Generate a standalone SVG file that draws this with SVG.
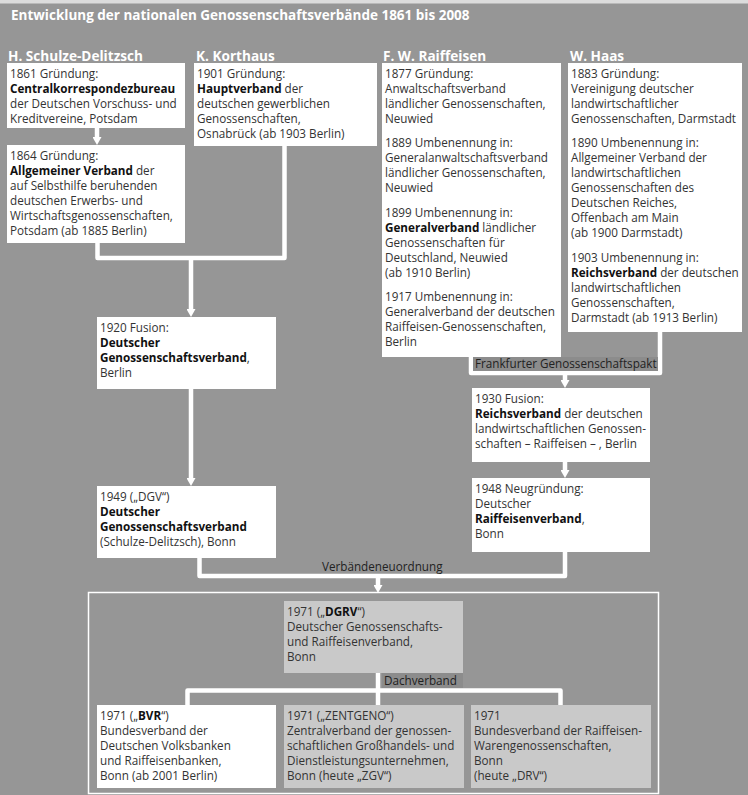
<svg xmlns="http://www.w3.org/2000/svg" width="748" height="795" viewBox="0 0 748 795">
<defs>
<style>
.t{font-family:"Open Sans","Noto Sans","DejaVu Sans",sans-serif;font-size:11.7px;fill:#333}
.b{font-weight:bold;fill:#111}
.h{font-family:"Open Sans","Noto Sans","DejaVu Sans",sans-serif;font-size:13.6px;font-weight:bold;fill:#fff}
.bx{fill:#fff}
.bg{fill:#c9c9c9}
.c{fill:none;stroke:#fff;stroke-width:4.5;stroke-linejoin:round}
.lb{fill:#8c8c8c}
.lt{font-family:"Open Sans","Noto Sans","DejaVu Sans",sans-serif;font-size:11.7px;fill:#222}
</style>
<marker id="ah" viewBox="0 0 8 9" refX="0" refY="4.5" markerWidth="8" markerHeight="9" markerUnits="userSpaceOnUse" orient="auto"><path d="M0,0 L8,4.5 L0,9 z" fill="#fff"/></marker>
</defs>
<rect x="0" y="0" width="748" height="795" fill="#969696"/>
<rect x="0" y="0" width="748" height="3.5" fill="#dcdcdc"/>
<text class="h" x="11" y="20" style="font-size:13.5px">Entwicklung der nationalen Genossenschaftsverbände 1861 bis 2008</text>
<text class="h" x="8" y="61">H. Schulze-Delitzsch</text>
<text class="h" x="196" y="61">K. Korthaus</text>
<text class="h" x="383" y="61">F. W. Raiffeisen</text>
<text class="h" x="570" y="61">W. Haas</text>

<g id="connectors">
<path class="c" d="M97,128 V137" marker-end="url(#ah)"/>
<path class="c" d="M97.5,243 V258 H284.5 V146"/>
<path class="c" d="M191,258 V309" marker-end="url(#ah)"/>
<path class="c" d="M191,389 V478" marker-end="url(#ah)"/>
<path class="c" d="M471,357 V373 H660 V332"/>
<path class="c" d="M565,373 V380" marker-end="url(#ah)"/>
<path class="c" d="M565,462 V470" marker-end="url(#ah)"/>
<path class="c" d="M199.5,558 V576 H565 V552"/>
<path class="c" d="M378,576 V585" marker-end="url(#ah)"/>
<path class="c" d="M378,673 V705"/>
<path class="c" d="M187.5,705 V690.5 H560.5 V705"/>
<rect class="lb" x="473" y="357" width="185" height="14"/>
<text class="lt" x="475" y="368">Frankfurter Genossenschaftspakt</text>
<text class="lt" x="322" y="571">Verbändeneuordnung</text>
<rect class="lb" x="382" y="673" width="81" height="15"/>
<text class="lt" x="384" y="685">Dachverband</text>
</g>

<rect x="88.5" y="592.5" width="570" height="201" fill="none" stroke="#fff" stroke-width="1.5"/>

<g id="n1861">
<rect class="bx" x="7" y="63" width="178" height="65"/>
<text class="t" x="10" y="77.5">1861 Gründung:</text>
<text class="t" x="10" y="92.5"><tspan class="b">Centralkorrespondezbureau</tspan></text>
<text class="t" x="10" y="107.5">der Deutschen Vorschuss- und</text>
<text class="t" x="10" y="122.5">Kreditvereine, Potsdam</text>
</g>

<g id="n1864">
<rect class="bx" x="7" y="145" width="178" height="98"/>
<text class="t" x="10" y="159.5">1864 Gründung:</text>
<text class="t" x="10" y="174.5"><tspan class="b">Allgemeiner Verband</tspan> der</text>
<text class="t" x="10" y="189.5">auf Selbsthilfe beruhenden</text>
<text class="t" x="10" y="204.5">deutschen Erwerbs- und</text>
<text class="t" x="10" y="219.5">Wirtschaftsgenossenschaften,</text>
<text class="t" x="10" y="234.5">Potsdam (ab 1885 Berlin)</text>
</g>

<g id="n1901">
<rect class="bx" x="194" y="63" width="183" height="83"/>
<text class="t" x="197" y="77.5">1901 Gründung:</text>
<text class="t" x="197" y="92.5"><tspan class="b">Hauptverband</tspan> der</text>
<text class="t" x="197" y="107.5">deutschen gewerblichen</text>
<text class="t" x="197" y="122.5">Genossenschaften,</text>
<text class="t" x="197" y="137.5">Osnabrück (ab 1903 Berlin)</text>
</g>

<g id="nRaiffeisen">
<rect class="bx" x="382" y="63" width="179" height="294"/>
<text class="t" x="385" y="77.5">1877 Gründung:</text>
<text class="t" x="385" y="92.5">Anwaltschaftsverband</text>
<text class="t" x="385" y="107.5">ländlicher Genossenschaften,</text>
<text class="t" x="385" y="122.5">Neuwied</text>
<text class="t" x="385" y="147">1889 Umbenennung in:</text>
<text class="t" x="385" y="162">Generalanwaltschaftsverband</text>
<text class="t" x="385" y="177">ländlicher Genossenschaften,</text>
<text class="t" x="385" y="192">Neuwied</text>
<text class="t" x="385" y="216.5">1899 Umbenennung in:</text>
<text class="t" x="385" y="231.5"><tspan class="b">Generalverband</tspan> ländlicher</text>
<text class="t" x="385" y="246.5">Genossenschaften für</text>
<text class="t" x="385" y="261.5">Deutschland, Neuwied</text>
<text class="t" x="385" y="276.5">(ab 1910 Berlin)</text>
<text class="t" x="385" y="301">1917 Umbenennung in:</text>
<text class="t" x="385" y="316">Generalverband der deutschen</text>
<text class="t" x="385" y="331">Raiffeisen-Genossenschaften,</text>
<text class="t" x="385" y="346">Berlin</text>
</g>

<g id="nHaas">
<rect class="bx" x="568" y="63" width="174" height="269"/>
<text class="t" x="571" y="77.5">1883 Gründung:</text>
<text class="t" x="571" y="92.5">Vereinigung deutscher</text>
<text class="t" x="571" y="107.5">landwirtschaftlicher</text>
<text class="t" x="571" y="122.5">Genossenschaften, Darmstadt</text>
<text class="t" x="571" y="147">1890 Umbenennung in:</text>
<text class="t" x="571" y="162">Allgemeiner Verband der</text>
<text class="t" x="571" y="177">landwirtschaftlichen</text>
<text class="t" x="571" y="192">Genossenschaften des</text>
<text class="t" x="571" y="207">Deutschen Reiches,</text>
<text class="t" x="571" y="222">Offenbach am Main</text>
<text class="t" x="571" y="237">(ab 1900 Darmstadt)</text>
<text class="t" x="571" y="261.5">1903 Umbenennung in:</text>
<text class="t" x="571" y="276.5"><tspan class="b">Reichsverband</tspan> der deutschen</text>
<text class="t" x="571" y="291.5">landwirtschaftlichen</text>
<text class="t" x="571" y="306.5">Genossenschaften,</text>
<text class="t" x="571" y="321.5">Darmstadt (ab 1913 Berlin)</text>
</g>

<g id="n1920">
<rect class="bx" x="97" y="317" width="179" height="72"/>
<text class="t" x="100" y="331.5">1920 Fusion:</text>
<text class="t" x="100" y="346.5"><tspan class="b">Deutscher</tspan></text>
<text class="t" x="100" y="361.5"><tspan class="b">Genossenschaftsverband</tspan>,</text>
<text class="t" x="100" y="376.5">Berlin</text>
</g>

<g id="n1949">
<rect class="bx" x="97" y="486" width="179" height="72"/>
<text class="t" x="100" y="500.5">1949 („DGV“)</text>
<text class="t" x="100" y="515.5"><tspan class="b">Deutscher</tspan></text>
<text class="t" x="100" y="530.5"><tspan class="b">Genossenschaftsverband</tspan></text>
<text class="t" x="100" y="545.5">(Schulze-Delitzsch), Bonn</text>
</g>

<g id="n1930">
<rect class="bx" x="472" y="388" width="178" height="74"/>
<text class="t" x="475" y="402.5">1930 Fusion:</text>
<text class="t" x="475" y="417.5"><tspan class="b">Reichsverband</tspan> der deutschen</text>
<text class="t" x="475" y="432.5">landwirtschaftlichen Genossen-</text>
<text class="t" x="475" y="447.5">schaften – Raiffeisen – , Berlin</text>
</g>

<g id="n1948">
<rect class="bx" x="472" y="478" width="178" height="74"/>
<text class="t" x="475" y="492.5">1948 Neugründung:</text>
<text class="t" x="475" y="507.5">Deutscher</text>
<text class="t" x="475" y="522.5"><tspan class="b">Raiffeisenverband</tspan>,</text>
<text class="t" x="475" y="537.5">Bonn</text>
</g>

<g id="nDGRV">
<rect class="bg" x="284" y="601" width="179" height="72"/>
<text class="t" x="287" y="615.5">1971 („<tspan class="b">DGRV</tspan>“)</text>
<text class="t" x="287" y="630.5">Deutscher Genossenschafts-</text>
<text class="t" x="287" y="645.5">und Raiffeisenverband,</text>
<text class="t" x="287" y="660.5">Bonn</text>
</g>

<g id="nBVR">
<rect class="bx" x="97" y="705" width="179" height="83"/>
<text class="t" x="100" y="719.5">1971 („<tspan class="b">BVR</tspan>“)</text>
<text class="t" x="100" y="734.5">Bundesverband der</text>
<text class="t" x="100" y="749.5">Deutschen Volksbanken</text>
<text class="t" x="100" y="764.5">und Raiffeisenbanken,</text>
<text class="t" x="100" y="779.5">Bonn (ab 2001 Berlin)</text>
</g>

<g id="nZENTGENO">
<rect class="bg" x="284" y="705" width="180" height="83"/>
<text class="t" x="287" y="719.5">1971 („ZENTGENO“)</text>
<text class="t" x="287" y="734.5">Zentralverband der genossen-</text>
<text class="t" x="287" y="749.5">schaftlichen Großhandels- und</text>
<text class="t" x="287" y="764.5">Dienstleistungsunternehmen,</text>
<text class="t" x="287" y="779.5">Bonn (heute „ZGV“)</text>
</g>

<g id="nDRV">
<rect class="bg" x="471" y="705" width="180" height="83"/>
<text class="t" x="474" y="719.5">1971</text>
<text class="t" x="474" y="734.5">Bundesverband der Raiffeisen-</text>
<text class="t" x="474" y="749.5">Warengenossenschaften,</text>
<text class="t" x="474" y="764.5">Bonn</text>
<text class="t" x="474" y="779.5">(heute „DRV“)</text>
</g>
</svg>
